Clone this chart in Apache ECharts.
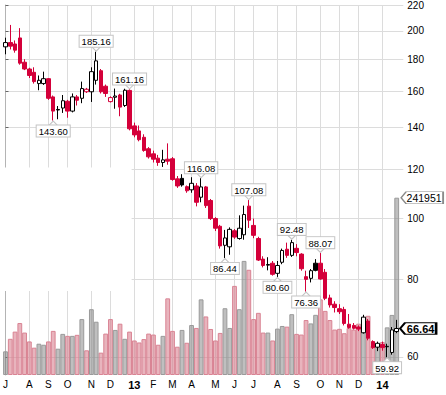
<!DOCTYPE html>
<html><head><meta charset="utf-8">
<script src="https://cdn.jsdelivr.net/npm/echarts@6/dist/echarts.min.js"></script>
<style>html,body{margin:0;padding:0;background:#fff}#c{width:446px;height:395px}</style>
</head><body><div id="c"></div>
<script>
// Weekly bars, first week starting Monday 2012-07-02
const firstWeek = '2012-07-02';
const opens = [188.5,191.5,190.5,194.8,178.1,173.7,171.6,164.6,164.6,167.6,
  156.7,149.3,150.4,154.2,148.7,156.7,155.9,159.7,159.7,166.6,
  172.6,163.0,154.0,156.5,157.8,151.8,160.5,140.8,138.2,135.0,
  129.4,127.0,125.0,123.0,124.5,124.7,115.8,116.0,112.5,111.2,
  112.8,108.2,112.4,106.9,100.0,97.2,90.6,90.1,95.6,92.9,
  94.2,104.7,97.5,92.9,86.1,84.2,84.8,81.7,85.1,89.3,
  87.3,89.6,87.7,80.7,80.2,84.8,84.8,82.0,74.6,72.9,
  71.7,71.5,67.7,67.4,67.0,65.6,68.5,63.5,62.2,62.8,
  62.3,61.0,65.9];
const highs = [195.0,204.4,193.0,202.0,180.1,174.5,174.8,169.6,172.0,168.0,
  157.5,151.5,157.8,155.0,158.7,157.8,165.8,162.0,174.8,185.16,
  173.7,164.0,157.0,161.6,158.5,161.5,161.16,142.5,141.0,136.5,
  130.2,128.5,126.5,128.9,132.0,125.5,117.0,117.8,113.0,116.5,
  114.0,116.08,112.8,107.5,100.5,97.7,95.9,96.8,96.2,101.2,
  104.9,107.08,100.0,93.5,87.0,86.7,85.5,85.5,89.5,91.5,
  92.48,91.0,88.0,82.5,83.0,86.1,88.07,83.0,75.5,73.7,
  72.9,72.2,70.3,68.0,67.4,70.1,69.0,63.8,63.5,63.5,
  63.0,67.0,68.8];
const lows = [183.4,186.7,184.5,176.5,173.0,168.0,164.6,160.6,163.8,155.0,
  143.60,144.3,147.7,145.1,148.0,151.8,153.1,159.0,153.8,164.0,
  158.7,156.7,153.5,150.0,145.9,151.0,138.5,135.0,133.0,128.0,
  124.8,123.0,121.5,121.0,122.0,115.0,112.0,112.5,110.0,110.0,
  104.6,106.2,104.0,99.5,95.5,89.5,86.44,87.5,92.8,92.5,
  92.5,96.6,93.0,85.5,83.5,82.6,81.0,80.60,84.5,86.5,
  86.8,87.0,82.5,76.36,79.0,82.3,79.8,74.0,72.0,70.7,
  70.3,67.4,66.6,66.4,66.0,65.4,63.8,61.8,61.3,61.4,
  59.92,60.5,65.5];
const closes = [191.5,189.0,186.2,177.5,173.7,169.6,165.8,166.6,167.6,155.9,
  148.7,149.6,154.5,148.7,156.7,154.8,161.6,161.2,172.0,179.0,
  159.7,158.7,156.3,157.2,150.9,160.6,139.3,136.2,133.8,128.6,
  125.6,124.5,123.0,124.2,123.6,115.5,112.8,113.2,110.8,113.9,
  106.2,112.4,104.9,100.0,96.5,90.4,93.1,96.1,93.4,96.5,
  101.5,99.4,94.0,85.8,84.1,84.4,81.4,84.1,88.9,87.3,
  91.5,88.2,83.1,79.9,82.5,82.6,80.0,74.5,72.7,72.0,
  70.9,67.9,66.9,66.7,66.5,69.5,64.3,62.1,63.1,62.1,
  62.4,66.3,66.64];
const volumes = [32300,49400,59200,70900,57900,45800,37300,42700,41300,45800,
  60200,35900,56100,53400,53400,54800,76300,33700,89800,72700,
  30500,56500,76300,61500,70000,49400,59200,47100,44400,49000,
  56500,55200,41300,53400,104600,60200,38600,61500,44000,68200,
  64200,103200,79900,62800,47100,57400,91100,64200,121600,89800,
  155700,143600,76300,84800,57900,57900,47100,63300,66900,66000,
  83000,56100,55200,75000,70400,82100,103200,87500,75000,62000,
  63000,57000,64000,62000,70000,75000,80800,40000,38000,45000,
  65000,82000,241951];
const priceTicks = [60,80,100,120,140,160,180,200,220];
const priceMin = 56.13, priceMax = 220;
const monthLetters = ['J','F','M','A','M','J','J','A','S','O','N','D'];
const calloutIndex = [19,26,10,41,51,46,60,57,66,63,80];
const calloutValue = [185.16,161.16,143.60,116.08,107.08,86.44,92.48,80.60,88.07,76.36,59.92];
const calloutSide = ['top','top','bottom','top','top','bottom','top','bottom','top','bottom','bottom'];

// logarithmic price scale: prices are placed through log10 on a value axis
const L = Math.log10;
const DAY = 864e5;
const t0 = Date.parse(firstWeek + 'T00:00:00Z');
const weeks = opens.map((_, i) => new Date(t0 + i * 7 * DAY));
const monthTickIdx = [];
weeks.forEach((d, i) => { if (d.getUTCDate() <= 7) monthTickIdx.push(i); });
function monthLabel(i) {
  const d = weeks[i];
  if (!d) return '';
  const m = d.getUTCMonth();
  if (m === 0) return '{b|' + String(d.getUTCFullYear() % 100).padStart(2, '0') + '}';
  return monthLetters[m];
}
const RED = '#d4003a', BLACK = '#000';
const isUp = i => i === 0 || closes[i] >= closes[i - 1];
const candle = i => [i, L(opens[i]), L(closes[i]), L(lows[i]), L(highs[i])];
const blackCandles = [], redCandles = [];
opens.forEach((o, i) => (isUp(i) ? blackCandles : redCandles).push(candle(i)));
const upVol = [], downVol = [];
volumes.forEach((v, i) => (isUp(i) ? upVol : downVol).push([i, v]));
const downPtr = 'path://M0,0L10,0L5,6Z';
const upPtr = 'path://M0,6L10,6L5,0Z';
const calloutData = calloutIndex.map((ix, k) => ({
  value: [ix, L(calloutValue[k]), calloutValue[k]],
  symbol: calloutSide[k] === 'top' ? downPtr : upPtr,
  symbolOffset: calloutSide[k] === 'top' ? [0, -3] : [0, 3],
  label: { position: calloutSide[k] }
}));
const last = opens.length - 1;
const FONT = '"Liberation Sans", Arial, sans-serif';

const candleSeries = (data, col) => ({ type: 'candlestick', data, barWidth: 4, z: 3,
  encode: { x: 0, y: [1, 2, 3, 4] },
  itemStyle: { color: '#fff', color0: col, borderColor: col, borderColor0: col, borderColorDoji: col, borderWidth: 1 },
  emphasis: { disabled: true } });
const redS = candleSeries(redCandles, RED);
const blackS = candleSeries(blackCandles, BLACK);
blackS.markPoint = {
  symbol: 'path://M0,5.5L5,0L36,0L36,11L5,11Z', symbolSize: [36, 11.5], symbolOffset: [21.4, 0],
  itemStyle: { color: '#fff', borderColor: '#000', borderWidth: 1.5 },
  label: { show: true, position: 'inside', offset: [2.5, 0], color: '#000', fontSize: 11, fontWeight: 'bold', fontFamily: FONT,
    formatter: () => closes[last].toFixed(2) },
  data: [{ coord: [last, L(closes[last])] }]
};

const chart = echarts.init(document.getElementById('c'), null, { renderer: 'svg' });
chart.setOption({
  animation: false,
  backgroundColor: '#fff',
  grid: { left: 0, top: 0, width: 403.3, height: 375, containLabel: false },
  graphic: [{ type: 'rect', z: 1, shape: { x: 0, y: 167.5, width: 131.6, height: 123.5 }, style: { fill: '#fff' } }],
  xAxis: {
    type: 'value', min: -0.02, max: 83.38,
    axisLine: { show: false },
    axisTick: { show: false, customValues: monthTickIdx },
    splitLine: { show: true, lineStyle: { color: '#dcdcdc', width: 1 } },
    axisLabel: { customValues: monthTickIdx, formatter: x => monthLabel(Math.round(x)),
      color: '#000', fontSize: 10, fontFamily: FONT, margin: 4,
      rich: { b: { fontWeight: 'bold', fontSize: 11, color: '#000', fontFamily: FONT } } }
  },
  yAxis: [{
    type: 'value', position: 'right', min: L(priceMin), max: L(priceMax),
    axisLine: { show: true, lineStyle: { color: '#b4b4b4' } },
    axisTick: { show: true, length: 3, inside: false, customValues: priceTicks.map(L), lineStyle: { color: '#666' } },
    splitLine: { show: true, lineStyle: { color: '#dcdcdc', width: 1 } },
    axisLabel: { customValues: priceTicks.map(L), formatter: x => String(Math.round(Math.pow(10, x))), color: '#000',
      fontSize: 10, fontFamily: FONT, margin: 4 }
  }, {
    type: 'value', min: 0, max: 504900, show: false, splitLine: { show: false }
  }],
  series: [{
    type: 'bar', yAxisIndex: 1, data: downVol, barWidth: 4.8, z: 2, barGap: '-100%',
    encode: { x: 0, y: 1 }, itemStyle: { color: 'rgba(214,118,134,0.55)', borderColor: '#d98393', borderWidth: 1 },
    emphasis: { disabled: true }
  }, {
    type: 'bar', yAxisIndex: 1, data: upVol, barWidth: 4.8, z: 2, barGap: '-100%',
    encode: { x: 0, y: 1 }, itemStyle: { color: 'rgba(112,112,112,0.45)', borderColor: '#9a9a9a', borderWidth: 1 },
    emphasis: { disabled: true },
    markPoint: {
      symbol: 'path://M0,6L5,0L42,0L42,12L5,12Z', symbolSize: [42, 12], symbolOffset: [25.4, 0],
      itemStyle: { color: '#fff', borderColor: '#8a8a8a', borderWidth: 1 },
      label: { show: true, position: 'inside', offset: [2, 0], color: '#000', fontSize: 10.5, fontFamily: FONT,
        formatter: () => String(volumes[last]) },
      data: [{ coord: [last, volumes[last]] }]
    }
  },
  redS,
  blackS,
  {
    type: 'scatter', data: calloutData, symbolSize: [10, 5], z: 5,
    encode: { x: 0, y: 1 },
    itemStyle: { color: '#fff', borderColor: '#c4c4c4', borderWidth: 1, opacity: 1 },
    label: { show: true, distance: -1, formatter: p => p.value[2].toFixed(2), color: '#000',
      fontSize: 9.5, fontFamily: FONT, backgroundColor: '#fff', borderColor: '#c4c4c4', borderWidth: 1,
      padding: [1, 2, 0, 2], lineHeight: 10 },
    emphasis: { disabled: true }
  }]
});
</script></body></html>
